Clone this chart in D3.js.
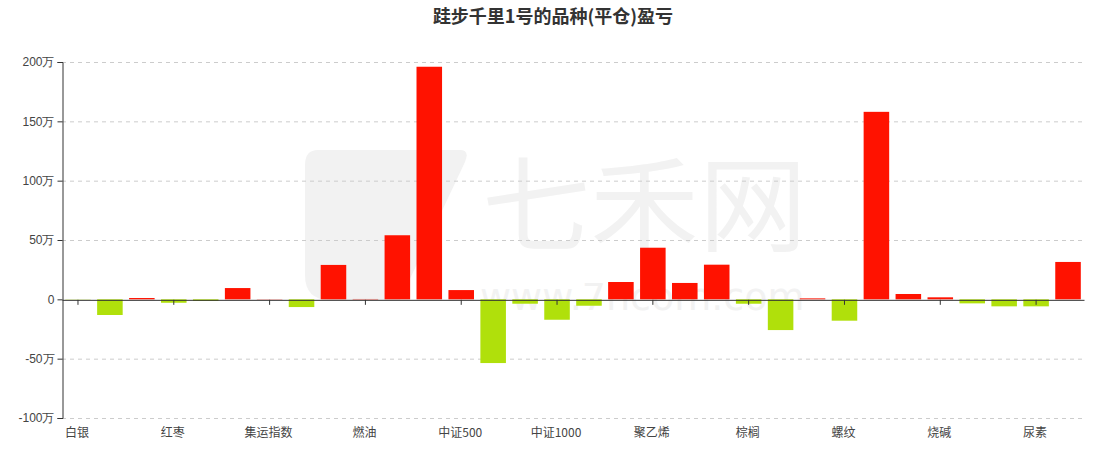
<!DOCTYPE html>
<html><head><meta charset="utf-8">
<script src="https://cdn.jsdelivr.net/npm/d3@7/dist/d3.min.js"></script>
<style>body{margin:0;background:#fff;}svg{display:block;font-family:"Microsoft YaHei","Noto Sans CJK SC",sans-serif;}</style>
</head><body><svg id="c" width="1096" height="449"></svg>
<script>
const titleText = "跬步千里1号的品种(平仓)盈亏";
const categories = ["白银","豆粕","沪铜","红枣","黄金","甲醇","集运指数","PTA","纯碱","燃油","沪深300","上证50","中证500","铁矿石","焦煤","中证1000","菜粕","豆油","聚乙烯","塑料","苹果","棕榈","焦炭","沪镍","螺纹","热卷","沥青","烧碱","橡胶","纸浆","尿素","生猪"];
const values = [-0.2,-13.2,1.1,-2.9,-1.4,9.5,0.2,-6.5,29,0.3,54,196,7.8,-53.7,-3.7,-17.2,-5.4,14.6,43.5,13.8,29.2,-3.7,-25.9,0.8,-18,158,4.5,1.7,-3.4,-5.9,-5.9,31.5];
const yTicks = [-100,-50,0,50,100,150,200];
const colorUp = "#ff1200", colorDown = "#b0e00b";

const svg = d3.select("#c");
const mLeft = 62, mRight = 1084, mTop = 62, mBottom = 418;
const x = d3.scaleBand().domain(categories).range([mLeft, mRight]).paddingInner(0.2).paddingOuter(0.1);
const band = d3.scaleBand().domain(categories).range([mLeft, mRight]);
const y = d3.scaleLinear().domain([-100, 200]).range([mBottom, mTop]);

// watermark
const wm = svg.append("g").attr("fill", "#f2f2f2");
wm.append("path").attr("d", "M318,150 L460,150 Q470,150 465,162 L400,300 L330,300 Q305,300 305,275 L305,165 Q305,150 318,150 Z");
wm.append("text").attr("x", 482).attr("y", 244).attr("font-size", 104)
  .attr("textLength", 325).attr("lengthAdjust", "spacingAndGlyphs").text("七禾网");
wm.append("text").attr("x", 480).attr("y", 310).attr("font-size", 38)
  .attr("font-family","Verdana, DejaVu Sans, sans-serif").text("www.7hcom.com");

// grid
svg.append("g").selectAll("line").data(yTicks.filter(d => d !== 0)).join("line")
  .attr("x1", mLeft).attr("x2", mRight).attr("y1", d => y(d)+0.5).attr("y2", d => y(d)+0.5)
  .attr("stroke", "#ccc").attr("stroke-dasharray", "4,4");

// bars
svg.append("g").selectAll("rect").data(values.map((v,i)=>({c:categories[i], v}))).join("rect")
  .attr("x", d => x(d.c)).attr("width", x.bandwidth())
  .attr("y", d => y(Math.max(0, d.v))).attr("height", d => Math.abs(y(d.v) - y(0)))
  .attr("fill", d => d.v >= 0 ? colorUp : colorDown);

// y axis
const yAxis = d3.axisLeft(y).tickValues(yTicks).tickSize(5).tickPadding(3)
  .tickFormat(d => d === 0 ? "0" : d + "万");
const gy = svg.append("g").attr("transform", `translate(${mLeft+0.5},0)`).call(yAxis);
gy.select(".domain").attr("stroke", "#333");
gy.selectAll(".tick line").attr("stroke", "#333");
gy.selectAll(".tick text").attr("fill", "#444").attr("font-size", 12);

// x axis at zero
const xAxis = d3.axisBottom(band).tickSize(5).tickPadding(0).tickSizeOuter(0)
  .tickValues(categories.filter((d,i) => i % 3 === 0)).tickFormat(() => "");
const gx = svg.append("g").attr("transform", `translate(0,${y(0)+0.5})`).call(xAxis);
gx.select(".domain").attr("stroke", "#333");
gx.selectAll(".tick line").attr("stroke", "#333");

// x labels at bottom
svg.append("g").selectAll("text").data(categories.filter((d,i) => i % 3 === 0)).join("text")
  .attr("x", d => band(d) + band.bandwidth()/2 - 1).attr("y", 437)
  .attr("text-anchor", "middle").attr("font-size", 12).attr("fill", "#444").text(d => d);

// title
svg.append("text").attr("x", 553).attr("y", 23).attr("text-anchor", "middle")
  .attr("font-size", 18).attr("font-weight", "bold").attr("fill", "#333").text(titleText);
</script></body></html>
